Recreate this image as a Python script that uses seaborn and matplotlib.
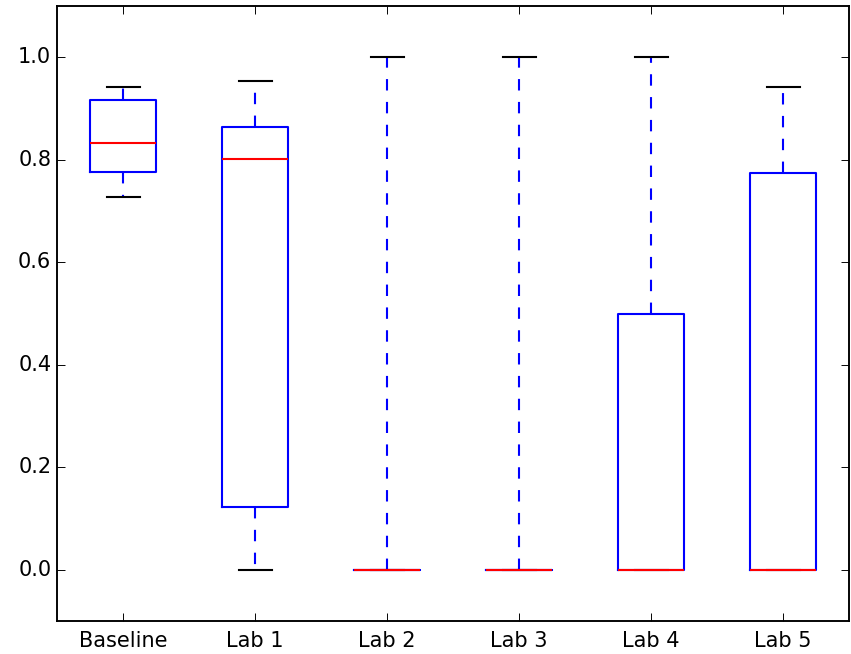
import matplotlib
matplotlib.use("Agg")
import matplotlib.pyplot as plt
import seaborn as sns
import pandas as pd

# Five summary points per group (min, q1, median, q3, max)
labels = ["Baseline", "Lab 1", "Lab 2", "Lab 3", "Lab 4", "Lab 5"]
baseline = [0.727, 0.777, 0.832, 0.916, 0.941]
lab1 = [0.0, 0.123, 0.801, 0.863, 0.953]
lab2 = [0.0, 0.0, 0.0, 0.0, 1.0]
lab3 = [0.0, 0.0, 0.0, 0.0, 1.0]
lab4 = [0.0, 0.0, 0.0, 0.5, 1.0]
lab5 = [0.0, 0.0, 0.0, 0.775, 0.941]
yticks = [0.0, 0.2, 0.4, 0.6, 0.8, 1.0]

series = [baseline, lab1, lab2, lab3, lab4, lab5]
df = pd.DataFrame({
    "group": [lab for lab, vals in zip(labels, series) for _ in vals],
    "value": [v for vals in series for v in vals],
})

plt.style.use("classic")
plt.rcParams["figure.facecolor"] = "white"
plt.rcParams["savefig.facecolor"] = "white"
plt.rcParams["font.family"] = ["DejaVu Sans"]

DPI = 137
fig = plt.figure(figsize=(851 / DPI, 654 / DPI), dpi=DPI)
ax = fig.add_axes([57 / 851, 1 - 621 / 654, (849 - 57) / 851, (621 - 6) / 654])

sns.boxplot(
    data=df, x="group", y="value", order=labels, ax=ax,
    whis=(0, 100), width=0.5, fill=False, linewidth=1.1,
    boxprops=dict(color="b"),
    medianprops=dict(color="r"),
    whiskerprops=dict(color="b", linestyle="--"),
    capprops=dict(color="k"),
    showfliers=False,
)

ax.set_xlim(-0.5, 5.5)
ax.set_ylim(-0.1, 1.1)
ax.set_yticks(yticks)
ax.set_xlabel("")
ax.set_ylabel("")
ax.tick_params(direction="in", top=True, right=True, labelsize=11)
ax.tick_params(axis="y", pad=3)
ax.tick_params(axis="x", pad=5)
for s in ax.spines.values():
    s.set_visible(True)
    s.set_color("black")
    s.set_linewidth(1)
ax.grid(False)

fig.savefig("out.png", dpi=DPI)
